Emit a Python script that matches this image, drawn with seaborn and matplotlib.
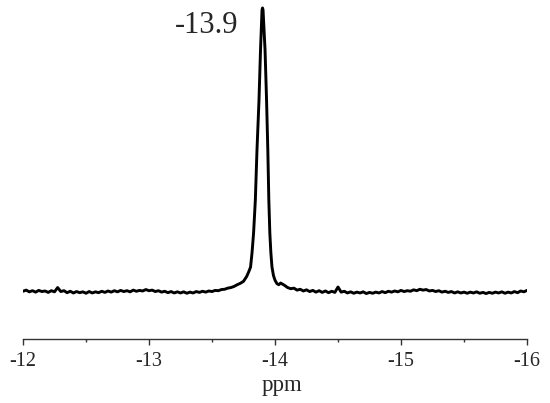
"""
plot.py
Solid-state NMR spectrum with a single sharp resonance at -13.9 ppm.
Values are read off the reference picture (intensity in arbitrary units,
baseline = 0, peak top = 100).
"""

import matplotlib
matplotlib.use("Agg")
import matplotlib.pyplot as plt
from matplotlib.ticker import MultipleLocator
import seaborn as sns
import pandas as pd


# ----------------------------------------------------
# Data
# ----------------------------------------------------
ppm = [
    -12.000, -12.025, -12.050, -12.075, -12.100, -12.125, -12.150, -12.175,
    -12.200, -12.225, -12.250, -12.275, -12.300, -12.325, -12.350, -12.375,
    -12.400, -12.425, -12.450, -12.475, -12.500, -12.525, -12.550, -12.575,
    -12.600, -12.625, -12.650, -12.675, -12.700, -12.725, -12.750, -12.775,
    -12.800, -12.825, -12.850, -12.875, -12.900, -12.925, -12.950, -12.975,
    -13.000, -13.025, -13.050, -13.075, -13.100, -13.125, -13.150, -13.175,
    -13.200, -13.225, -13.250, -13.275, -13.300, -13.325, -13.350, -13.375,
    -13.400, -13.425, -13.450, -13.475, -13.500, -13.525, -13.550, -13.575,
    -13.600, -13.625, -13.650, -13.675, -13.700, -13.725, -13.750, -13.775,
    -13.790, -13.806, -13.818, -13.830, -13.844, -13.857, -13.873, -13.885,
    -13.897, -13.901, -13.905, -13.921, -13.933, -13.943, -13.951, -13.959,
    -13.967, -13.976, -13.988, -14.000, -14.015, -14.030, -14.045, -14.060,
    -14.075, -14.090, -14.100, -14.125, -14.150, -14.175, -14.200, -14.225,
    -14.250, -14.275, -14.300, -14.325, -14.350, -14.375, -14.400, -14.425,
    -14.450, -14.475, -14.500, -14.525, -14.550, -14.575, -14.600, -14.625,
    -14.650, -14.675, -14.700, -14.725, -14.750, -14.775, -14.800, -14.825,
    -14.850, -14.875, -14.900, -14.925, -14.950, -14.975, -15.000, -15.025,
    -15.050, -15.075, -15.100, -15.125, -15.150, -15.175, -15.200, -15.225,
    -15.250, -15.275, -15.300, -15.325, -15.350, -15.375, -15.400, -15.425,
    -15.450, -15.475, -15.500, -15.525, -15.550, -15.575, -15.600, -15.625,
    -15.650, -15.675, -15.700, -15.725, -15.750, -15.775, -15.800, -15.825,
    -15.850, -15.875, -15.900, -15.925, -15.950, -15.975, -16.000,
]

intensity = [
    0.3, 0.7, 0.1, 0.5, 0.0, 0.6, 0.2, 0.4,
    -0.1, 0.5, 0.1, 1.6, 0.2, 0.5, -0.2, 0.3,
    -0.3, 0.2, -0.2, 0.1, -0.4, 0.2, -0.3, 0.1,
    -0.2, 0.3, -0.1, 0.4, 0.0, 0.5, 0.1, 0.6,
    0.2, 0.5, 0.1, 0.7, 0.3, 0.6, 0.4, 0.9,
    0.5, 0.7, 0.2, 0.5, 0.0, 0.3, -0.2, 0.2,
    -0.3, 0.1, -0.3, 0.1, -0.4, 0.0, -0.3, 0.2,
    -0.1, 0.3, 0.0, 0.4, 0.2, 0.6, 0.5, 0.9,
    1.0, 1.4, 1.6, 2.0, 2.6, 3.1, 3.8, 5.5,
    7.0, 8.8, 14.0, 20.8, 32.4, 50.0, 67.6, 85.2,
    99.3, 100.0, 99.3, 85.2, 67.6, 50.0, 32.4, 20.8,
    14.0, 8.8, 5.8, 4.2, 3.0, 2.6, 3.2, 2.8,
    2.4, 1.9, 1.6, 1.2, 1.4, 0.7, 1.0, 0.4,
    0.8, 0.2, 0.6, 0.0, 0.5, -0.1, 0.4, -0.2,
    0.3, -0.1, 1.8, 0.0, 0.3, -0.3, 0.1, -0.4,
    0.0, -0.3, 0.1, -0.5, -0.1, -0.4, 0.0, -0.3,
    0.2, -0.2, 0.3, 0.0, 0.4, 0.1, 0.6, 0.2,
    0.5, 0.3, 0.8, 0.5, 1.0, 0.7, 0.9, 0.4,
    0.6, 0.2, 0.5, 0.0, 0.3, -0.1, 0.2, -0.3,
    0.1, -0.3, 0.0, -0.4, 0.0, -0.3, 0.1, -0.4,
    -0.1, -0.5, -0.1, -0.4, 0.0, -0.3, 0.1, -0.4,
    0.0, -0.3, 0.2, -0.2, 0.4, 0.1, 0.6,
]

peak_label = "-13.9"
x_ticks = [-12, -13, -14, -15, -16]


# ----------------------------------------------------
# Plot
# ----------------------------------------------------
def main():
    sns.set_style("white")
    plt.rcParams["font.family"] = ["Liberation Serif", "DejaVu Serif"]

    df = pd.DataFrame({"ppm": ppm, "intensity": intensity})

    fig = plt.figure(figsize=(5.5, 4.03), dpi=100)
    ax = fig.add_axes([23 / 550, 64 / 403, 504 / 550, 339 / 403])

    sns.lineplot(data=df, x="ppm", y="intensity", ax=ax, color="black",
                 linewidth=2.1, sort=False, estimator=None)

    ax.set_xlim(-12, -16)
    ax.set_ylim(-16.5, 102.8)

    # only the bottom axis is shown
    for side in ["left", "top", "right"]:
        ax.spines[side].set_visible(False)
    ax.spines["bottom"].set_color("#333333")
    ax.spines["bottom"].set_linewidth(1.0)
    ax.set_yticks([])
    ax.set_ylabel("")

    ax.set_xticks(x_ticks)
    ax.set_xticklabels([str(t) for t in x_ticks])
    ax.xaxis.set_minor_locator(MultipleLocator(0.5))
    ax.tick_params(axis="x", which="major", direction="out", length=4.5,
                   width=1.0, color="#333333", labelsize=14.5, pad=5,
                   bottom=True)
    ax.tick_params(axis="x", which="minor", direction="out", length=2.5,
                   width=1.0, color="#333333", bottom=True)
    ax.set_xlabel("ppm", fontsize=16.5)
    ax.xaxis.set_label_coords(0.514, -0.105)

    ax.text(-13.46, 94, peak_label, fontsize=22, ha="center", va="center")

    fig.savefig("out.png", dpi=100)
    plt.close(fig)


if __name__ == "__main__":
    main()
